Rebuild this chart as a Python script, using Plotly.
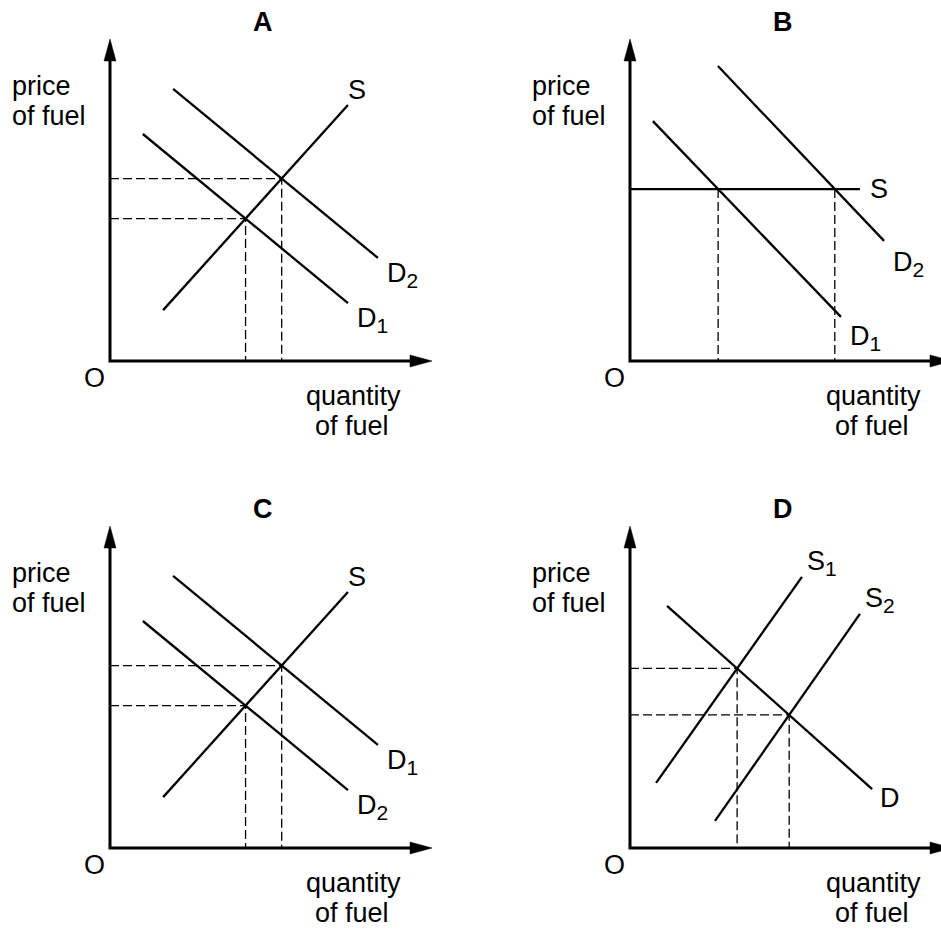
import plotly.graph_objects as go

# ---------------- data (quantity, price in diagram units; origin O = (0, 0)) ----------------
panel_names = ["A", "B", "C", "D"]
axis_label_price = ["price", "of fuel"]
axis_label_qty = ["quantity", "of fuel"]
origin_label = "O"

# Panel A: demand increases D1 -> D2, upward-sloping supply
A_S_q, A_S_p = [1.65, 7.39], [1.58, 7.95]
A_D1_q, A_D1_p = [1.02, 7.39], [7.05, 1.80]
A_D2_q, A_D2_p = [1.96, 8.32], [8.45, 3.20]

# Panel B: perfectly elastic supply
B_S_q, B_S_p = [0.0, 7.14], [5.34, 5.34]
B_D1_q, B_D1_p = [0.71, 6.55], [7.45, 1.37]
B_D2_q, B_D2_p = [2.73, 7.89], [9.16, 3.73]

# Panel C: same curves as A, labels swapped
C_S_q, C_S_p = [1.65, 7.39], [1.58, 7.95]
C_D2_q, C_D2_p = [1.02, 7.39], [7.05, 1.80]
C_D1_q, C_D1_p = [1.96, 8.32], [8.45, 3.20]

# Panel D: supply increases S1 -> S2
D_S1_q, D_S1_p = [0.81, 5.34], [2.02, 8.42]
D_S2_q, D_S2_p = [2.64, 7.14], [0.84, 7.27]
D_D_q, D_D_p = [1.15, 7.52], [7.52, 1.83]

AXIS_LEN = 10.0

# ---------------- layout / style ----------------
W, H = 941, 931
SCALE = 32.2  # pixels per diagram unit
ORIGINS = {"A": (110, 361), "B": (630, 361), "C": (110, 848), "D": (630, 848)}
FONT = "Arial, Liberation Sans, Helvetica, sans-serif"
FS = 27
SUB_FS = 21
CURVE_W = 2.3
AXIS_W = 3
DASH_W = 1.3
ARROW_L = 22  # px
ARROW_HW = 6  # px

fig = go.Figure()


def sub(base, idx):
    return "%s<sub><span style='font-size:%dpx'>%s</span></sub>" % (base, SUB_FS, idx)


def axes_ids(i):
    s = "" if i == 0 else str(i + 1)
    return "x" + s, "y" + s, "xaxis" + s, "yaxis" + s


def intersect(q1, p1, q2, p2):
    x1, y1, x2, y2 = q1[0], p1[0], q1[1], p1[1]
    x3, y3, x4, y4 = q2[0], p2[0], q2[1], p2[1]
    den = (x1 - x2) * (y3 - y4) - (y1 - y2) * (x3 - x4)
    t = ((x1 - x3) * (y3 - y4) - (y1 - y3) * (x3 - x4)) / den
    return x1 + t * (x2 - x1), y1 + t * (y2 - y1)


def add_line(xr, yr, q, p, width=CURVE_W, dash=None):
    fig.add_trace(go.Scatter(
        x=q, y=p, mode="lines", xaxis=xr, yaxis=yr,
        line=dict(color="black", width=width, dash=dash),
        hoverinfo="skip", showlegend=False))


def add_fill(xr, yr, q, p):
    fig.add_trace(go.Scatter(
        x=q, y=p, mode="lines", xaxis=xr, yaxis=yr, fill="toself",
        fillcolor="black", line=dict(color="black", width=0.5),
        hoverinfo="skip", showlegend=False))


def label(xr, yr, q, p, text, dx=0, dy=0, xanchor="left", yanchor="middle", bold=False):
    fig.add_annotation(
        x=q, y=p, xref=xr, yref=yr, text=("<b>%s</b>" % text) if bold else text,
        showarrow=False, xanchor=xanchor, yanchor=yanchor, xshift=dx, yshift=dy,
        font=dict(family=FONT, size=FS, color="black"))


curves = {
    "A": [(A_S_q, A_S_p, "S"), (A_D1_q, A_D1_p, sub("D", 1)), (A_D2_q, A_D2_p, sub("D", 2))],
    "B": [(B_S_q, B_S_p, "S"), (B_D1_q, B_D1_p, sub("D", 1)), (B_D2_q, B_D2_p, sub("D", 2))],
    "C": [(C_S_q, C_S_p, "S"), (C_D1_q, C_D1_p, sub("D", 1)), (C_D2_q, C_D2_p, sub("D", 2))],
    "D": [(D_S1_q, D_S1_p, sub("S", 1)), (D_S2_q, D_S2_p, sub("S", 2)), (D_D_q, D_D_p, "D")],
}
equilibria = {
    "A": [((A_S_q, A_S_p), (A_D1_q, A_D1_p)), ((A_S_q, A_S_p), (A_D2_q, A_D2_p))],
    "B": [((B_S_q, B_S_p), (B_D1_q, B_D1_p)), ((B_S_q, B_S_p), (B_D2_q, B_D2_p))],
    "C": [((C_S_q, C_S_p), (C_D1_q, C_D1_p)), ((C_S_q, C_S_p), (C_D2_q, C_D2_p))],
    "D": [((D_S1_q, D_S1_p), (D_D_q, D_D_p)), ((D_S2_q, D_S2_p), (D_D_q, D_D_p))],
}
# label offsets (px) from the upper/right end of each curve
label_offsets = {
    "A": [(9, 15, "center"), (7, -17, "left"), (7, -17, "left")],
    "B": [(8, 0, "left"), (7, -21, "left"), (7, -23, "left")],
    "C": [(9, 15, "center"), (7, -17, "left"), (7, -17, "left")],
    "D": [(3, 14, "left"), (3, 14, "left"), (6, -9, "left")],
}

for i, name in enumerate(panel_names):
    xr, yr, xa, ya = axes_ids(i)
    ox, oy = ORIGINS[name]
    fig.layout[xa] = dict(domain=[0, 1], range=[-ox / SCALE, (W - ox) / SCALE],
                          visible=False, anchor=yr, fixedrange=True)
    fig.layout[ya] = dict(domain=[0, 1], range=[-(H - oy) / SCALE, oy / SCALE],
                          visible=False, anchor=xr, fixedrange=True)
    u = 1.0 / SCALE
    aL, aH = ARROW_L * u, ARROW_HW * u

    # dashed equilibrium guides
    for (s, d) in equilibria[name]:
        qe, pe = intersect(s[0], s[1], d[0], d[1])
        if name == "B":
            add_line(xr, yr, [qe, qe], [pe, 0], width=DASH_W, dash="9px,4px")
        else:
            add_line(xr, yr, [0, qe, qe], [pe, pe, 0], width=DASH_W, dash="9px,4px")

    # axes with arrowheads
    add_line(xr, yr, [0, 0, AXIS_LEN - aL], [AXIS_LEN - aL, 0, 0], width=AXIS_W)
    add_fill(xr, yr, [-aH, 0, aH, -aH], [AXIS_LEN - aL, AXIS_LEN, AXIS_LEN - aL, AXIS_LEN - aL])
    add_fill(xr, yr, [AXIS_LEN - aL, AXIS_LEN, AXIS_LEN - aL, AXIS_LEN - aL], [-aH, 0, aH, -aH])

    # curves and their labels
    for (q, p, txt), (dx, dy, xanc) in zip(curves[name], label_offsets[name]):
        add_line(xr, yr, q, p)
        label(xr, yr, q[1] if q[1] >= q[0] else q[0], p[1] if q[1] >= q[0] else p[0],
              txt, dx=dx, dy=dy, xanchor=xanc)

    # titles and axis texts (positions in px from origin)
    label(xr, yr, 153 * u, 339 * u, name, xanchor="center", bold=True)
    label(xr, yr, -100 * u, 275 * u, axis_label_price[0])
    label(xr, yr, -100 * u, 245 * u, axis_label_price[1])
    label(xr, yr, -16 * u, -17 * u, origin_label, xanchor="center")
    label(xr, yr, 243 * u, -35 * u, axis_label_qty[0], xanchor="center")
    label(xr, yr, 242 * u, -65 * u, axis_label_qty[1], xanchor="center")

fig.update_layout(
    width=W, height=H, margin=dict(l=0, r=0, t=0, b=0),
    paper_bgcolor="white", plot_bgcolor="rgba(0,0,0,0)",
    showlegend=False,
)

fig.write_html(
    "out.html",
    config={"displayModeBar": False, "staticPlot": True},
    post_script="document.body.style.margin='0';document.body.style.overflow='hidden';",
)
